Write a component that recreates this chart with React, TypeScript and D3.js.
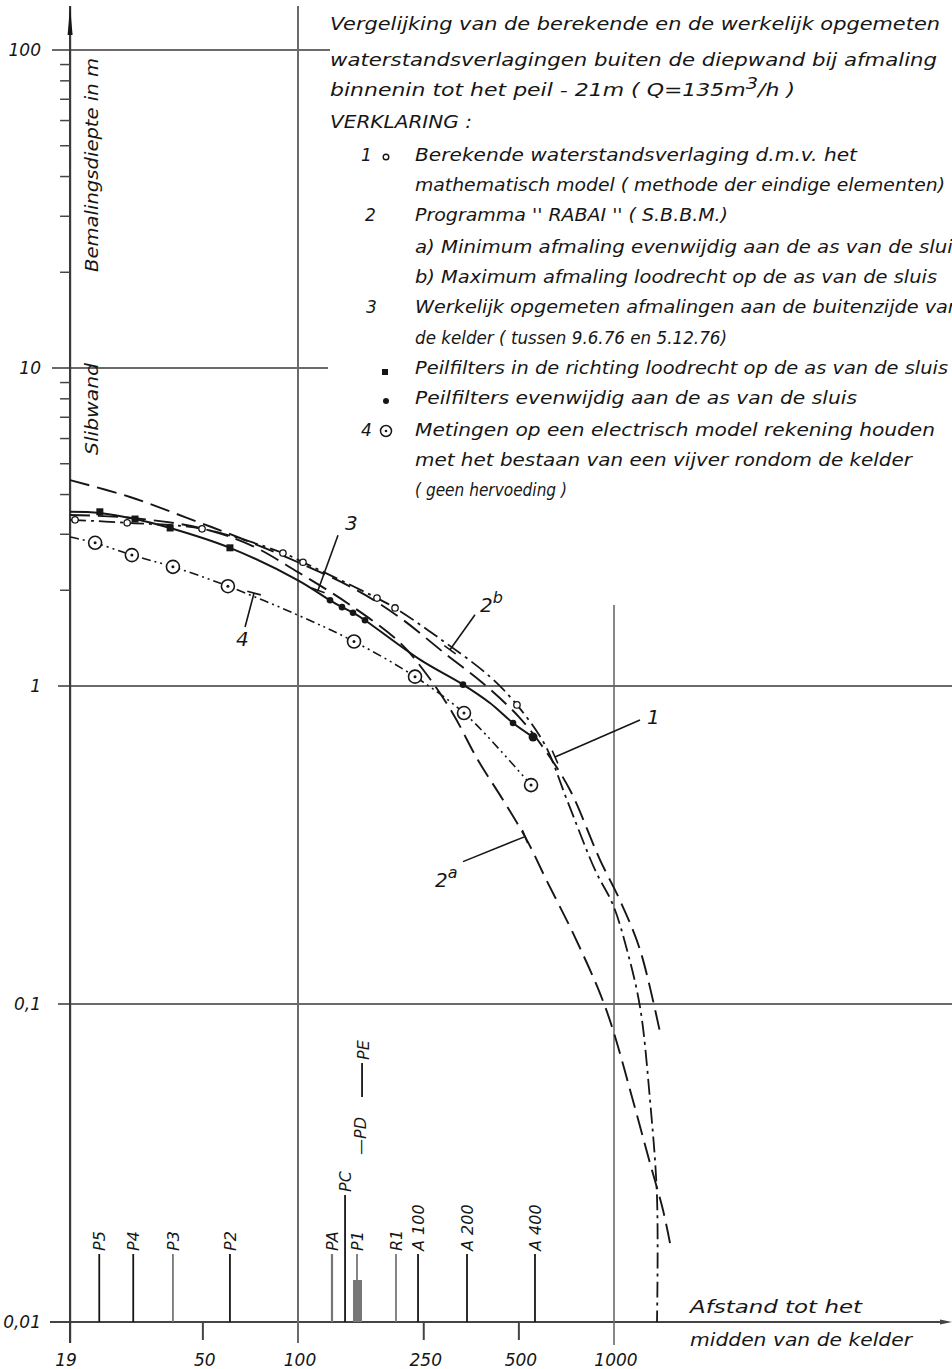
import React from 'react';
import * as d3 from 'd3';

// afstand tot het midden van de kelder (m) / verlaging (m)
const curve1Dist = [19, 28.8, 49.7, 89.6, 103.7, 177.8, 202.8, 275.4, 405, 493, 605, 710, 871, 993, 1099, 1209, 1300, 1368, 1368];
const curve1Val = [3.33, 3.26, 3.12, 2.62, 2.45, 1.89, 1.76, 1.43, 1.07, 0.872, 0.652, 0.438, 0.264, 0.205, 0.148, 0.0978, 0.0499, 0.0247, 0.01];
const curve1PtDist = [19.7, 28.8, 49.7, 89.6, 103.7, 177.8, 202.8, 493];
const curve1PtVal = [3.33, 3.26, 3.12, 2.62, 2.45, 1.89, 1.76, 0.872];

const curve2bDist = [19, 29.4, 44.5, 65.5, 100, 153.7, 210.3, 296.2, 385, 504, 604.7, 725.6, 903, 1044, 1209, 1398];
const curve2bVal = [4.44, 3.93, 3.38, 2.92, 2.45, 2.0, 1.64, 1.25, 1.02, 0.793, 0.629, 0.471, 0.284, 0.212, 0.148, 0.0816];

const curve2aDist = [19, 29.4, 49, 70.5, 100, 146, 210, 252, 307, 371, 445.6, 530.6, 614, 742, 903, 993, 1140, 1300, 1429, 1504];
const curve2aVal = [3.45, 3.38, 3.14, 2.78, 2.28, 1.8, 1.37, 1.107, 0.829, 0.585, 0.438, 0.327, 0.243, 0.167, 0.108, 0.0828, 0.051, 0.0316, 0.0225, 0.0177];

const curve3Dist = [19, 23.6, 30.5, 39.4, 60.9, 100, 126.3, 137.8, 149.3, 162.9, 243.3, 332.8, 405.1, 479.1, 554.4];
const curve3Val = [3.53, 3.5, 3.35, 3.14, 2.72, 2.15, 1.86, 1.77, 1.7, 1.61, 1.21, 1.01, 0.884, 0.765, 0.691];
const squareDist = [23.6, 30.5, 39.4, 60.9];
const squareVal = [3.53, 3.35, 3.14, 2.72];
const dotDist = [126.3, 137.8, 149.3, 162.9, 332.8, 479.1, 554.4];
const dotVal = [1.86, 1.77, 1.7, 1.61, 1.01, 0.765, 0.691];

const curve4Dist = [19, 22.8, 29.8, 40.2, 60, 100, 150.4, 234.6, 335.2, 435.8, 546.4];
const curve4Val = [2.94, 2.82, 2.58, 2.37, 2.06, 1.67, 1.38, 1.07, 0.822, 0.629, 0.488];
const electricDist = [22.8, 29.8, 40.2, 60, 150.4, 234.6, 335.2, 546.4];
const electricVal = [2.82, 2.58, 2.37, 2.06, 1.38, 1.07, 0.822, 0.488];

const stationNames = ['P5', 'P4', 'P3', 'P2', 'PA', 'PC', 'P1', 'R1', 'A 100', 'A 200', 'A 400'];
const stationDist = [23.5, 30.1, 40.2, 60.9, 128.1, 140.9, 153.7, 204.2, 239.8, 342.6, 562.3];

const xTickVals = [19, 50, 100, 250, 500, 1000];
const yTickVals = [100, 10, 1, 0.1, 0.01];
const yTickLabels = ['100', '10', '1', '0,1', '0,01'];

// labels 1..4 with anchor on the curve (distance, drawdown)
const pointerLabels = ['3', '4', '2', '1', '2'];
const pointerSup = ['', '', 'b', '', 'a'];
const pointerDist = [115.7, 72.6, 302.7, 650.6, 522.9];
const pointerVal = [2.0, 1.96, 1.3, 0.598, 0.336];

const titleLines = [
  'Vergelijking van de berekende en de werkelijk opgemeten',
  'waterstandsverlagingen buiten de diepwand bij afmaling',
];

const W = 952;
const H = 1369;
const FONT = '"DejaVu Sans", sans-serif';

const App: React.FC = () => {
  const x = d3.scaleLog().domain([100, 1000]).range([298, 614]);
  const y = d3.scaleLog().domain([0.01, 100]).range([1322, 50]);
  const ax = x(19);

  const line = d3
    .line<[number, number]>()
    .x((d) => x(d[0]))
    .y((d) => y(d[1]))
    .curve(d3.curveCatmullRom.alpha(0.5));
  const zip = (a: number[], b: number[]) => a.map((v, i) => [v, b[i]] as [number, number]);

  const minorTicks: number[] = [];
  [1, 10].forEach((dec) => {
    for (let k = 2; k <= 9; k++) minorTicks.push(k * dec);
  });

  const ink = '#161616';
  const grid = '#6a6a6a';

  const txt = (props: any, s: React.ReactNode) => (
    <text fontFamily={FONT} fontStyle="italic" fill={ink} {...props}>
      {s}
    </text>
  );

  // pointer geometry: label offset from anchor in px
  const pointerOffsets: [number, number][] = [
    [20, -55],
    [-9, 34],
    [25, -35],
    [85, -37],
    [-62, 25],
  ];
  const labelOffsets: [number, number][] = [
    [27, -60],
    [-18, 53],
    [30, -38],
    [92, -33],
    [-90, 50],
  ];

  return (
    <svg width={W} height={H} style={{ position: 'absolute', left: 0, top: 0, background: '#fff' }}>
      {/* horizontal grid */}
      <line x1={52} x2={330} y1={y(100)} y2={y(100)} stroke={grid} strokeWidth={2} />
      <line x1={52} x2={328} y1={y(10)} y2={y(10)} stroke={grid} strokeWidth={2} />
      <line x1={58} x2={W} y1={y(1)} y2={y(1)} stroke={grid} strokeWidth={2} />
      <line x1={58} x2={W} y1={y(0.1)} y2={y(0.1)} stroke={grid} strokeWidth={2} />
      <line x1={50} x2={W - 8} y1={y(0.01)} y2={y(0.01)} stroke="#444" strokeWidth={2.2} />
      <path d={`M${W - 12},${y(0.01) - 2.5} L${W},${y(0.01)} L${W - 12},${y(0.01) + 2.5} Z`} fill="#444" />

      {/* vertical lines */}
      <line x1={ax} x2={ax} y1={6} y2={1343} stroke="#3a3a3a" strokeWidth={2.2} />
      <path d={`M${ax - 2.5},35 L${ax},6 L${ax + 2.5},35 Z`} fill={ink} />
      <line x1={x(100)} x2={x(100)} y1={6} y2={1343} stroke={grid} strokeWidth={2} />
      <line x1={x(1000)} x2={x(1000)} y1={605} y2={1345} stroke={grid} strokeWidth={1.6} />
      {[50, 250, 500].map((t) => (
        <line key={t} x1={x(t)} x2={x(t)} y1={y(0.01)} y2={1340} stroke="#444" strokeWidth={2} />
      ))}

      {/* minor ticks y */}
      {minorTicks.map((t) => (
        <line key={t} x1={ax - 10} x2={ax} y1={y(t)} y2={y(t)} stroke="#444" strokeWidth={1.5} />
      ))}

      {/* tick labels */}
      {yTickVals.map((t, i) =>
        txt({ key: 'y' + t, x: 41, y: y(t) + 6, textAnchor: 'end', fontSize: 17 }, yTickLabels[i])
      )}
      {xTickVals.map((t) =>
        txt({ key: 'x' + t, x: x(t) + (t === 19 ? -4 : 2), y: 1366, textAnchor: 'middle', fontSize: 17 }, String(t))
      )}

      {/* axis titles */}
      {txt({ x: 0, y: 0, fontSize: 17, textLength: 214, lengthAdjust: 'spacingAndGlyphs', transform: 'translate(98,272) rotate(-90)' }, 'Bemalingsdiepte in m')}
      {txt({ x: 0, y: 0, fontSize: 17, textLength: 92, lengthAdjust: 'spacingAndGlyphs', transform: 'translate(98,455) rotate(-90)' }, 'Slibwand')}
      {txt({ x: 690, y: 1313, fontSize: 17, textLength: 172, lengthAdjust: 'spacingAndGlyphs' }, 'Afstand tot het')}
      {txt({ x: 690, y: 1346, fontSize: 17, textLength: 222, lengthAdjust: 'spacingAndGlyphs' }, 'midden van de kelder')}

      {/* stations */}
      {stationNames.map((n, i) => {
        const sx = x(stationDist[i]);
        const gray = n === 'PA' || n === 'P1' || n === 'R1' || n === 'P3';
        const top = n === 'PC' ? 1195 : 1254;
        return (
          <g key={n}>
            <line x1={sx} x2={sx} y1={y(0.01)} y2={top} stroke={gray ? '#777' : ink} strokeWidth={n === 'PA' ? 2.2 : 1.8} />
            {n === 'P1' && <rect x={sx - 4} y={1280} width={9} height={y(0.01) - 1280} fill="#777" />}
            {txt(
              { x: 0, y: 0, fontSize: 16, transform: `translate(${sx + 6},${top - 3}) rotate(-90)` },
              n
            )}
          </g>
        );
      })}
      {txt({ x: 0, y: 0, fontSize: 16, transform: `translate(${x(140.9) + 21},1155) rotate(-90)` }, '—PD')}
      <line x1={x(140.9) + 17} x2={x(140.9) + 17} y1={1097} y2={1063} stroke={ink} strokeWidth={1.8} />
      {txt({ x: 0, y: 0, fontSize: 16, transform: `translate(${x(140.9) + 24},1060) rotate(-90)` }, 'PE')}

      {/* curves */}
      <path d={line(zip(curve2bDist, curve2bVal)) || ''} fill="none" stroke={ink} strokeWidth={1.9} strokeDasharray="20,8" />
      <path d={line(zip(curve2aDist, curve2aVal)) || ''} fill="none" stroke={ink} strokeWidth={1.9} strokeDasharray="20,8" />
      <path d={line(zip(curve1Dist, curve1Val)) || ''} fill="none" stroke={ink} strokeWidth={1.8} strokeDasharray="16,5,3,5" />
      <path d={line(zip(curve3Dist, curve3Val)) || ''} fill="none" stroke={ink} strokeWidth={2} />
      <path d={line(zip(curve4Dist, curve4Val)) || ''} fill="none" stroke={ink} strokeWidth={1.6} strokeDasharray="9,4,2,4,2,4" />

      {/* markers */}
      {curve1PtDist.map((d, i) => (
        <circle key={'c' + i} cx={x(d)} cy={y(curve1PtVal[i])} r={3.2} fill="#fff" stroke={ink} strokeWidth={1.3} />
      ))}
      {squareDist.map((d, i) => (
        <rect key={'s' + i} x={x(d) - 3.5} y={y(squareVal[i]) - 3.5} width={7} height={7} fill={ink} />
      ))}
      {dotDist.map((d, i) => (
        <circle key={'d' + i} cx={x(d)} cy={y(dotVal[i])} r={i === dotDist.length - 1 ? 4.5 : 3.3} fill={ink} />
      ))}
      {electricDist.map((d, i) => (
        <g key={'e' + i}>
          <circle cx={x(d)} cy={y(electricVal[i])} r={6.5} fill="#fff" stroke={ink} strokeWidth={1.6} />
          <circle cx={x(d)} cy={y(electricVal[i])} r={1.5} fill={ink} />
        </g>
      ))}

      {/* pointers */}
      {pointerLabels.map((lab, i) => {
        const ex = x(pointerDist[i]);
        const ey = y(pointerVal[i]);
        const [ox, oy] = pointerOffsets[i];
        const sx = ex + ox;
        const sy = ey + oy;
        const len = Math.hypot(ox, oy);
        const px = (-oy / len) * 7;
        const py = (ox / len) * 7;
        const [lx, ly] = labelOffsets[i];
        return (
          <g key={'p' + i}>
            <line x1={sx} y1={sy} x2={ex} y2={ey} stroke={ink} strokeWidth={1.6} />
            <line x1={ex - px} y1={ey - py} x2={ex + px} y2={ey + py} stroke={ink} strokeWidth={1.6} />
            {txt(
              { x: ex + lx, y: ey + ly, fontSize: 20, fontStyle: 'italic' },
              <>
                {lab}
                {pointerSup[i] && (
                  <tspan dy={-9} fontSize={16}>
                    {pointerSup[i]}
                  </tspan>
                )}
              </>
            )}
          </g>
        );
      })}

      {/* legend text */}
      {txt({ x: 330, y: 30, fontSize: 17, textLength: 610, lengthAdjust: 'spacingAndGlyphs' }, titleLines[0])}
      {txt({ x: 330, y: 66, fontSize: 17, textLength: 607, lengthAdjust: 'spacingAndGlyphs' }, titleLines[1])}
      {txt(
        { x: 330, y: 96, fontSize: 17, textLength: 465, lengthAdjust: 'spacingAndGlyphs' },
        <>
          binnenin tot het peil - 21m ( Q=135m<tspan dy={-7} fontSize={15}>3</tspan>
          <tspan dy={7}>/h )</tspan>
        </>
      )}
      {txt({ x: 330, y: 128, fontSize: 17, textLength: 142, lengthAdjust: 'spacingAndGlyphs' }, 'VERKLARING :')}

      {txt({ x: 361, y: 161, fontSize: 17 }, '1')}
      <circle cx={386} cy={157} r={2.8} fill="#fff" stroke={ink} strokeWidth={1.4} />
      {txt({ x: 415, y: 161, fontSize: 17, textLength: 442, lengthAdjust: 'spacingAndGlyphs' }, 'Berekende waterstandsverlaging d.m.v. het')}
      {txt({ x: 415, y: 191, fontSize: 17, textLength: 530, lengthAdjust: 'spacingAndGlyphs' }, 'mathematisch model ( methode der eindige elementen)')}
      {txt({ x: 365, y: 221, fontSize: 17 }, '2')}
      {txt({ x: 415, y: 221, fontSize: 17, textLength: 313, lengthAdjust: 'spacingAndGlyphs' }, "Programma '' RABAI '' ( S.B.B.M.)")}
      {txt({ x: 415, y: 253, fontSize: 17, textLength: 548, lengthAdjust: 'spacingAndGlyphs' }, 'a) Minimum afmaling evenwijdig aan de as van de sluis')}
      {txt({ x: 415, y: 283, fontSize: 17, textLength: 522, lengthAdjust: 'spacingAndGlyphs' }, 'b) Maximum afmaling loodrecht op de as van de sluis')}
      {txt({ x: 366, y: 313, fontSize: 17 }, '3')}
      {txt({ x: 415, y: 313, fontSize: 17, textLength: 545, lengthAdjust: 'spacingAndGlyphs' }, 'Werkelijk opgemeten afmalingen aan de buitenzijde van')}
      {txt({ x: 415, y: 344, fontSize: 17, textLength: 312, lengthAdjust: 'spacingAndGlyphs' }, 'de kelder ( tussen 9.6.76 en 5.12.76)')}
      <rect x={382} y={369} width={6} height={6} fill={ink} />
      {txt({ x: 415, y: 374, fontSize: 17, textLength: 533, lengthAdjust: 'spacingAndGlyphs' }, 'Peilfilters in de richting loodrecht op de as van de sluis')}
      <circle cx={386} cy={401} r={3} fill={ink} />
      {txt({ x: 415, y: 404, fontSize: 17, textLength: 442, lengthAdjust: 'spacingAndGlyphs' }, 'Peilfilters evenwijdig aan de as van de sluis')}
      {txt({ x: 361, y: 436, fontSize: 17 }, '4')}
      <circle cx={386} cy={431} r={5.5} fill="#fff" stroke={ink} strokeWidth={1.5} />
      <circle cx={386} cy={431} r={1.3} fill={ink} />
      {txt({ x: 415, y: 436, fontSize: 17, textLength: 520, lengthAdjust: 'spacingAndGlyphs' }, 'Metingen op een electrisch model rekening houden')}
      {txt({ x: 415, y: 466, fontSize: 17, textLength: 497, lengthAdjust: 'spacingAndGlyphs' }, 'met het bestaan van een vijver rondom de kelder')}
      {txt({ x: 415, y: 496, fontSize: 17, textLength: 152, lengthAdjust: 'spacingAndGlyphs' }, '( geen hervoeding )')}
    </svg>
  );
};

export default App;
